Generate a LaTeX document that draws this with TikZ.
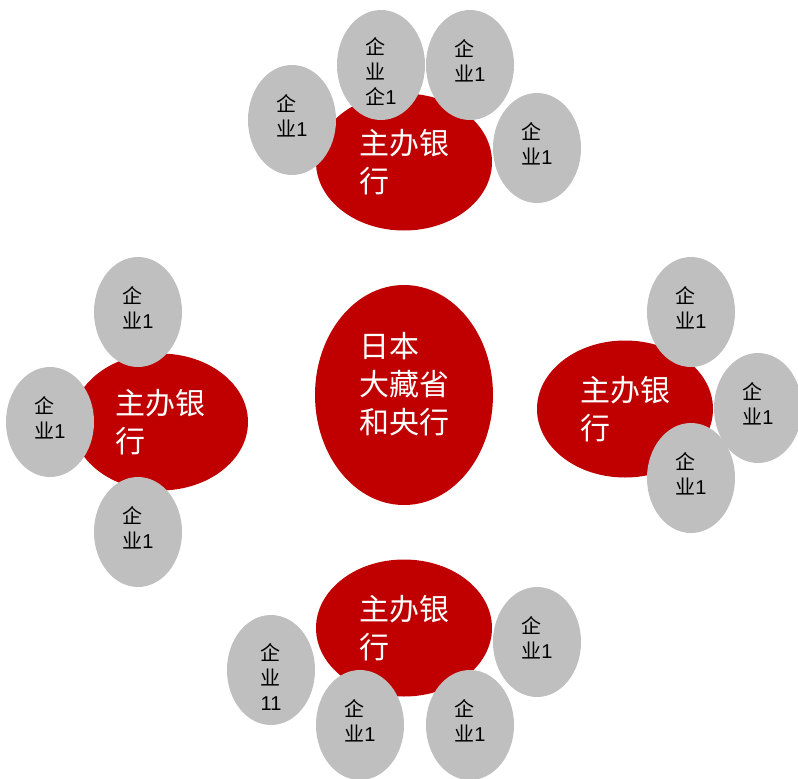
\documentclass[tikz,border=0pt]{standalone}
\usepackage{fontspec}
\setmainfont{Liberation Sans}
\newfontfamily\cjk{Noto Sans CJK SC}
\usetikzlibrary{shapes.geometric}
\definecolor{bankred}{HTML}{C00000}
\definecolor{firmgray}{HTML}{BFBFBF}
\newcommand\firmQ{{\cjk 企}}
\newcommand\firmY{{\cjk 业}}
\tikzset{
  bank/.style={ellipse, fill=bankred, minimum width=176pt, minimum height=137pt,
    inner sep=0pt, text=white, align=left, font=\cjk\fontsize{30}{38}\selectfont},
  banktext/.style={inner sep=0pt, text=white, align=left, font=\cjk\fontsize{30}{38}\selectfont},
  firm/.style={ellipse, fill=firmgray, minimum width=88pt, minimum height=110pt,
    inner sep=0pt},
  firmlab/.style={inner sep=0pt, text=black, align=left, yshift=4pt,
    font=\fontsize{20}{25}\selectfont},
}
\begin{document}
\begin{tikzpicture}[x=1pt, y=-1pt]
\useasboundingbox (0,0) rectangle (798,779);
% top group
\node[bank] (tb) at (404,162) {主办银\\行};
\node[firm, label={[firmlab]center:\firmQ\\\firmY1}] (t1) at (292,120) {};
\node[firm, label={[firmlab, yshift=-11pt]center:\firmQ\\\firmY\\\firmQ1}] (t2) at (381,65) {};
\node[firm, label={[firmlab]center:\firmQ\\\firmY1}] (t3) at (470,65) {};
\node[firm, label={[firmlab]center:\firmQ\\\firmY1}] (t4) at (537,148) {};
% centre
\node[bank, minimum width=178pt, minimum height=220pt] (c) at (404,395) {};
\node[banktext] (ct) at (404,384) {日本\\大藏省\\和央行};
% left group
\node[bank] (lb) at (160,422) {主办银\\行};
\node[firm, label={[firmlab]center:\firmQ\\\firmY1}] (l1) at (138,312) {};
\node[firm, label={[firmlab]center:\firmQ\\\firmY1}] (l2) at (50,422) {};
\node[firm, label={[firmlab]center:\firmQ\\\firmY1}] (l3) at (138,532) {};
% right group
\node[bank] (rb) at (625,409) {主办银\\行};
\node[firm, label={[firmlab]center:\firmQ\\\firmY1}] (r1) at (691,312) {};
\node[firm, label={[firmlab]center:\firmQ\\\firmY1}] (r2) at (758,408) {};
\node[firm, label={[firmlab]center:\firmQ\\\firmY1}] (r3) at (691,478) {};
% bottom group
\node[bank] (bb) at (404,628) {主办银\\行};
\node[firm, label={[firmlab, yshift=-11pt]center:\firmQ\\\firmY\\11}] (b1) at (271,670) {};
\node[firm, label={[firmlab]center:\firmQ\\\firmY1}] (b2) at (360,725) {};
\node[firm, label={[firmlab]center:\firmQ\\\firmY1}] (b3) at (470,725) {};
\node[firm, label={[firmlab]center:\firmQ\\\firmY1}] (b4) at (537,642) {};
\end{tikzpicture}
\end{document}
